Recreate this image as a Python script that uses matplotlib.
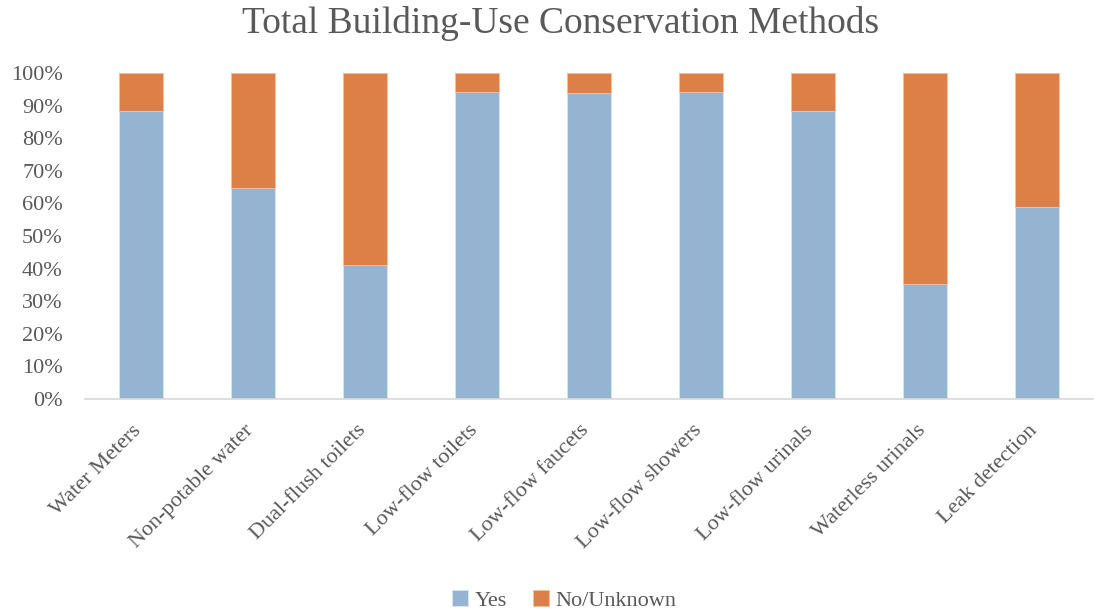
import matplotlib as mpl
import matplotlib.pyplot as plt
import matplotlib.transforms as mtransforms
import numpy as np
from matplotlib.ticker import PercentFormatter

mpl.rcParams.update({
    "font.family": "serif",
    "font.serif": ["Liberation Serif"],
    "text.color": "#595959",
    "xtick.color": "#595959",
    "ytick.color": "#595959",
})

methods = [
    "Water Meters", "Non-potable water", "Dual-flush toilets",
    "Low-flow toilets", "Low-flow faucets", "Low-flow showers",
    "Low-flow urinals", "Waterless urinals", "Leak detection",
]
yes_pct = [88.2, 64.7, 41.2, 94.1, 93.8, 94.1, 88.2, 35.3, 58.8]
no_pct = [11.8, 35.3, 58.8, 5.9, 6.2, 5.9, 11.8, 64.7, 41.2]

YES_COLOR = "#95B4D2"
NO_COLOR = "#DD8047"

fig = plt.figure(figsize=(10.94, 6.11), dpi=100)
ax = fig.add_axes([0.0777, 0.347, 0.9213, 0.5335])

x = np.arange(len(methods))
ax.bar(x, yes_pct, width=0.4, color=YES_COLOR, edgecolor="#DCE6F0",
       linewidth=0.6, label="Yes")
ax.bar(x, no_pct, width=0.4, bottom=yes_pct, color=NO_COLOR,
       edgecolor="#F0C0A0", linewidth=0.6, label="No/Unknown")

ax.set_xlim(-0.5, len(methods) - 0.5)
ax.set_ylim(0, 100)
ax.set_yticks(np.arange(0, 101, 10))
ax.yaxis.set_major_formatter(PercentFormatter(decimals=0))
ax.tick_params(axis="y", length=0, labelsize=16, pad=16)
ax.tick_params(axis="x", length=0, labelsize=16, pad=16)

ax.set_xticks(x)
ax.set_xticklabels(methods, rotation=45, ha="right", rotation_mode="anchor")
# nudge the slanted labels a little to the left
shift = mtransforms.ScaledTranslation(-0.09, 0, fig.dpi_scale_trans)
for lbl in ax.get_xticklabels():
    lbl.set_transform(lbl.get_transform() + shift)

for side in ["top", "right", "left"]:
    ax.spines[side].set_visible(False)
ax.spines["bottom"].set_color("#D9D9D9")
ax.spines["bottom"].set_linewidth(1.2)

fig.text(0.512, 0.962, "Total Building-Use Conservation Methods",
         ha="center", va="center", fontsize=27)

fig.legend(loc="lower center", bbox_to_anchor=(0.516, -0.032), ncol=2,
           frameon=False, fontsize=16, handlelength=0.7, handleheight=0.7,
           handletextpad=0.3, columnspacing=1.2)

fig.savefig("out.png", dpi=100)
